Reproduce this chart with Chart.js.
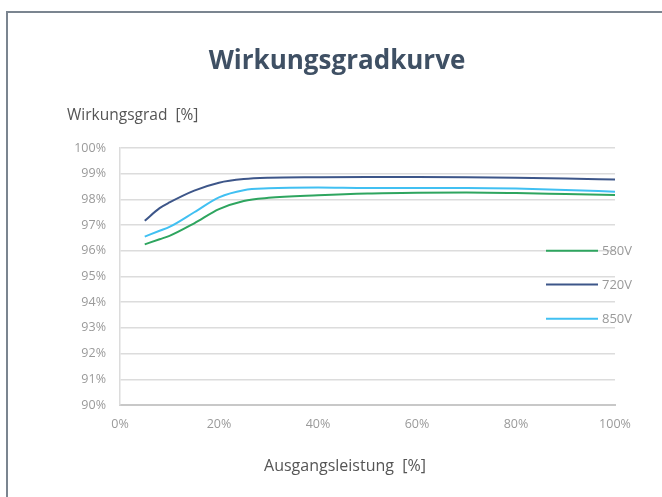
<!DOCTYPE html>
<html>
<head>
<meta charset="utf-8">
<script src="https://cdn.jsdelivr.net/npm/chart.js@4"></script>
<style>
html,body{margin:0;padding:0;background:#fff;overflow:hidden;}
#wrap{position:relative;width:662px;height:497px;}
#frame{position:absolute;left:6px;top:11px;width:700px;height:520px;border-left:2px solid #7b8590;border-top:2px solid #7b8590;box-sizing:border-box;}
canvas{position:absolute;left:0;top:0;}
</style>
</head>
<body>
<div id="wrap">
<div id="frame"></div>
<canvas id="c" width="662" height="497"></canvas>
</div>
<script>
const chartTitle = "Wirkungsgradkurve";
const yAxisTitle = "Wirkungsgrad  [%]";
const xAxisTitle = "Ausgangsleistung  [%]";
const seriesNames = ["580V", "720V", "850V"];
const seriesColors = ["#2ea55f", "#3d5689", "#41c0f2"];
const loadPct = [5, 8, 10, 15, 20, 25, 30, 40, 50, 60, 70, 80, 90, 100];
const eff580 = [96.25, 96.45, 96.58, 97.07, 97.62, 97.94, 98.06, 98.16, 98.23, 98.26, 98.27, 98.25, 98.21, 98.17];
const eff720 = [97.17, 97.66, 97.88, 98.34, 98.65, 98.79, 98.84, 98.86, 98.87, 98.87, 98.86, 98.84, 98.81, 98.77];
const eff850 = [96.55, 96.78, 96.93, 97.50, 98.08, 98.36, 98.43, 98.46, 98.44, 98.44, 98.44, 98.42, 98.37, 98.30];
const yTicks = [90, 91, 92, 93, 94, 95, 96, 97, 98, 99, 100];
const xTicks = [0, 20, 40, 60, 80, 100];

const effSeries = [eff580, eff720, eff850];
const FONT = "'Open Sans', sans-serif";

const datasets = seriesNames.map((n, i) => ({
  label: n,
  data: loadPct.map((x, j) => ({x: x, y: effSeries[i][j]})),
  borderColor: seriesColors[i],
  backgroundColor: seriesColors[i],
  borderWidth: 2,
  pointRadius: 0,
  tension: 0.4,
  cubicInterpolationMode: 'monotone',
  fill: false
}));

const textPlugin = {
  id: 'texts',
  afterDraw(chart) {
    const ctx = chart.ctx;
    ctx.save();
    ctx.fillStyle = '#3f5064';
    ctx.font = "bold 26px " + FONT;
    ctx.textAlign = 'center';
    ctx.textBaseline = 'middle';
    ctx.fillText(chartTitle, 337, 62);
    ctx.fillStyle = '#555';
    ctx.font = "15.5px " + FONT;
    ctx.textAlign = 'left';
    ctx.fillText(yAxisTitle, 67, 116);
    ctx.font = "16px " + FONT;
    ctx.textAlign = 'center';
    ctx.fillText(xAxisTitle, 345, 466);
    // legend inside plot area
    const legendY = [250.7, 284.5, 318.7];
    ctx.font = "13px " + FONT;
    ctx.textAlign = 'left';
    seriesNames.forEach((n, i) => {
      ctx.strokeStyle = seriesColors[i];
      ctx.lineWidth = 2;
      ctx.beginPath();
      ctx.moveTo(546, legendY[i]);
      ctx.lineTo(598, legendY[i]);
      ctx.stroke();
      ctx.fillStyle = '#999';
      ctx.fillText(n, 602, legendY[i] + 1);
    });
    ctx.restore();
  }
};

new Chart(document.getElementById('c'), {
  type: 'line',
  data: {datasets: datasets},
  plugins: [textPlugin],
  options: {
    responsive: false,
    animation: false,
    layout: {padding: {left: 60, right: 47, top: 148, bottom: 62}},
    plugins: {legend: {display: false}, title: {display: false}, tooltip: {enabled: false}},
    scales: {
      x: {
        type: 'linear', min: 0, max: 100,
        afterFit(s) { s.height = 30; },
        afterBuildTicks(s) { s.ticks = xTicks.map(v => ({value: v})); },
        ticks: {color: '#9a9a9a', font: {family: FONT, size: 12.5}, padding: 12, callback: v => v + '%', maxRotation: 0},
        grid: {display: false, drawTicks: false},
        border: {display: true, color: '#c8c8c8', width: 2}
      },
      y: {
        min: 90, max: 100,
        afterFit(s) { s.width = 60; },
        afterBuildTicks(s) { s.ticks = yTicks.map(v => ({value: v})); },
        ticks: {color: '#9a9a9a', font: {family: FONT, size: 12.5}, padding: 14, callback: v => v + '%'},
        grid: {color: '#dcdcdc', lineWidth: 1.5, drawTicks: false},
        border: {display: true, color: '#dcdcdc', width: 1.5}
      }
    }
  }
});
</script>
</body>
</html>
